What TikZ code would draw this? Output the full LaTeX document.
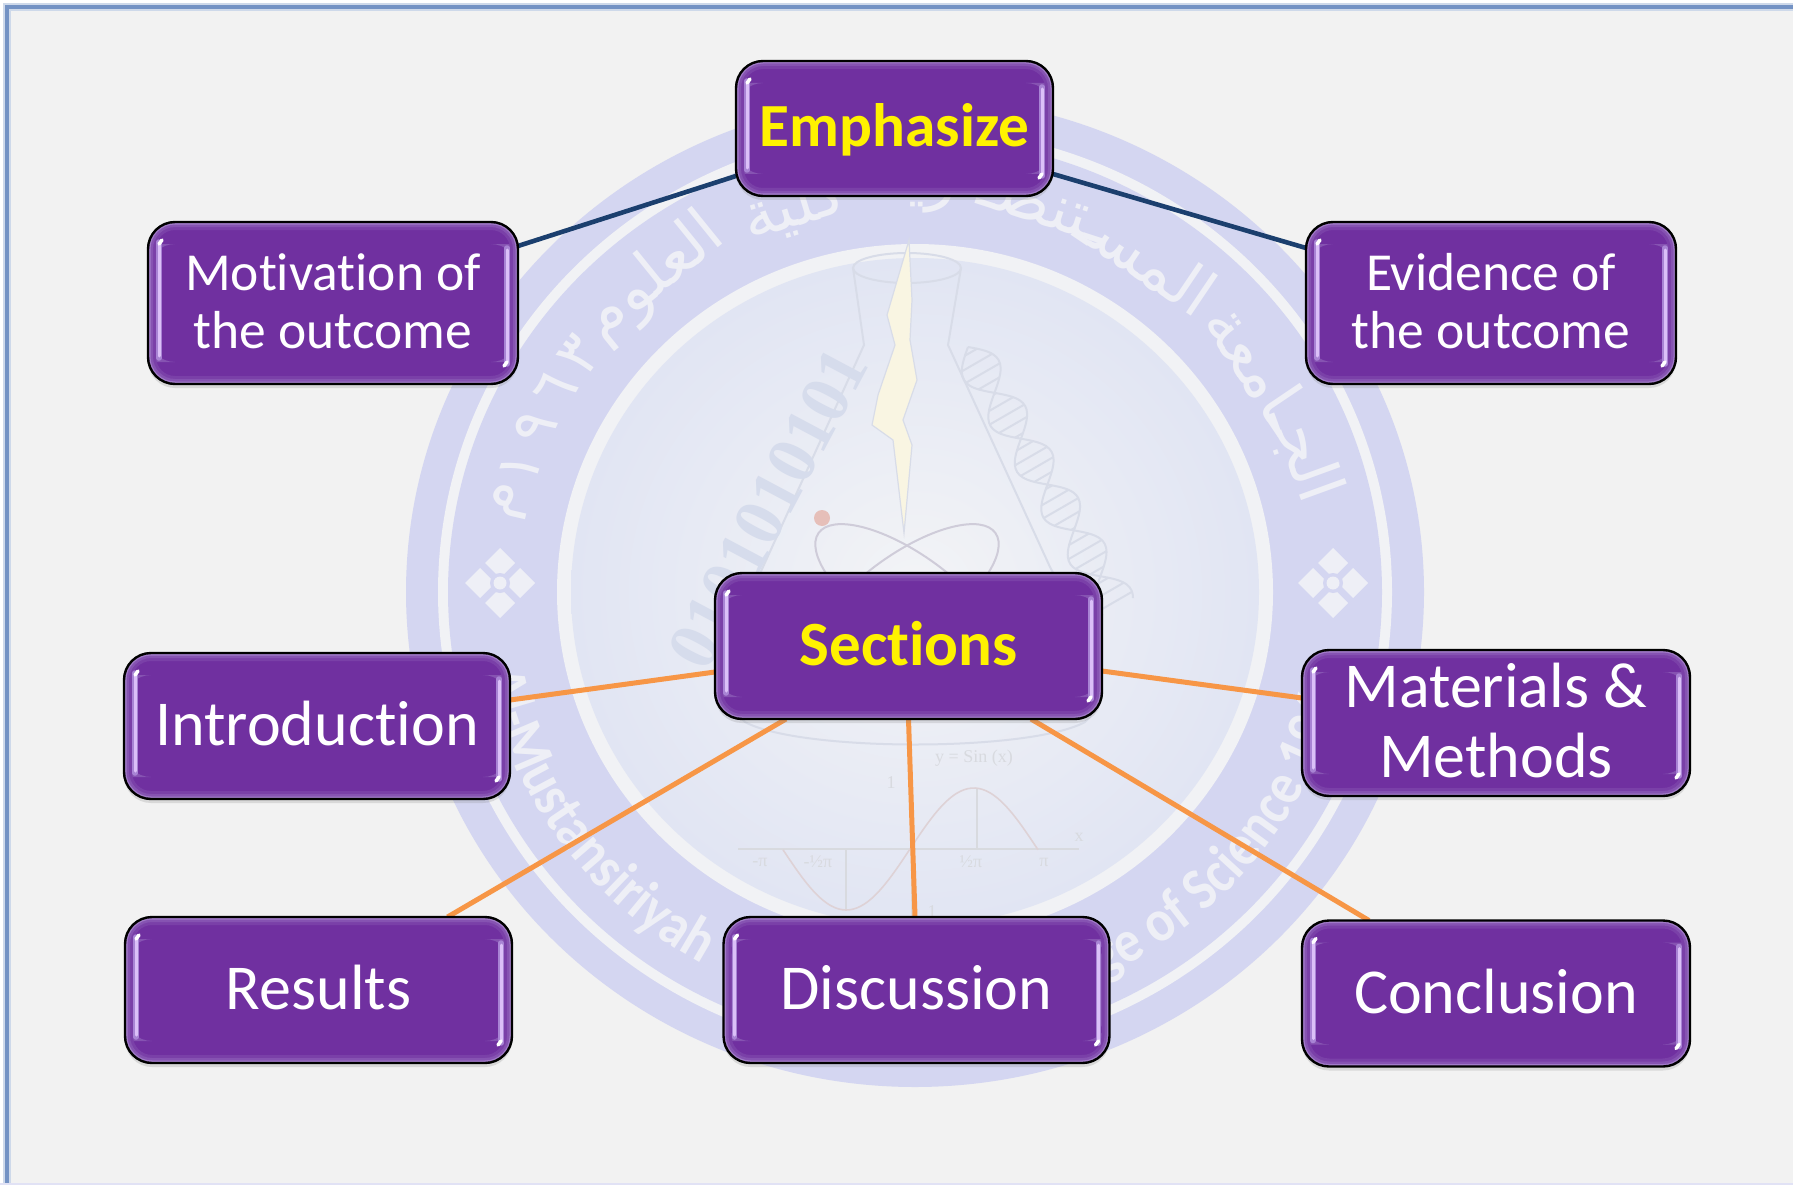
\documentclass[tikz,border=0pt]{standalone}
\usepackage{fontspec}
\usetikzlibrary{calc,backgrounds,shadows,decorations.text}
\setmainfont[Ligatures=NoCommon]{Carlito}
\newfontfamily\wmfont[FakeStretch=0.88,Ligatures=NoCommon]{Carlito}
\newfontfamily\wmserif{Liberation Serif}
\newfontfamily\arabicfont[Script=Arabic]{DejaVu Sans}
\TeXXeTstate=1
\definecolor{pagebg}{HTML}{F2F2F2}
\definecolor{framecol}{HTML}{7392C4}
\definecolor{boxpurple}{HTML}{7030A0}
\definecolor{glowa}{HTML}{7A40A8}
\definecolor{glowb}{HTML}{8653B2}
\definecolor{glowc}{HTML}{A17BC8}
\definecolor{glintsoft}{HTML}{A884D4}
\definecolor{glint}{HTML}{DBC0F8}
\definecolor{navyline}{HTML}{1B3F6E}
\definecolor{orangeline}{HTML}{F79646}
\definecolor{band}{HTML}{D4D6F1}
\definecolor{ringcol}{HTML}{F1F2F5}
\definecolor{wmtext}{HTML}{EEEFF6}
\definecolor{flaskcol}{HTML}{D8DCE8}
\definecolor{digitcol}{HTML}{D6DCEC}
\definecolor{sinecol}{HTML}{DED2D6}
\definecolor{axiscol}{HTML}{D8DADF}
\definecolor{discin}{HTML}{F3F4F6}
\definecolor{discout}{HTML}{E1E5F3}
\definecolor{boltcol}{HTML}{F9F5E2}
\definecolor{orbitcol}{HTML}{CFCCD9}
\definecolor{nucleus}{HTML}{E6BFB9}
\tikzset{
  pbox/.style={rectangle,rounded corners=27pt,draw=black,line width=2.4pt,fill=boxpurple,
    text=white,align=center,inner sep=0pt,outer sep=0pt,
    drop shadow={opacity=.22,shadow xshift=0pt,shadow yshift=-4pt},
    path picture={
      \fill[glowb] ($(path picture bounding box.north west)+(0,22)$) rectangle ($(path picture bounding box.south west)+(11,-22)$);
      \fill[glowb] ($(path picture bounding box.north east)+(0,22)$) rectangle ($(path picture bounding box.south east)+(-11,-22)$);
      \draw[glowa,line width=16pt,rounded corners=27pt] (path picture bounding box.north west) rectangle (path picture bounding box.south east);
      \draw[glowb,line width=10pt,rounded corners=27pt] (path picture bounding box.north west) rectangle (path picture bounding box.south east);
      \draw[glowc,line width=5pt,rounded corners=27pt] (path picture bounding box.north west) rectangle (path picture bounding box.south east);
      \draw[glintsoft,line width=5.5pt,line cap=round]
        ($(path picture bounding box.north west)+(11,20)$) -- ($(path picture bounding box.south west)+(11,-26)$);
      \draw[glintsoft,line width=5.5pt,line cap=round]
        ($(path picture bounding box.north east)+(-11,26)$) -- ($(path picture bounding box.south east)+(-11,-20)$);
      \draw[glint,line width=3pt,line cap=round]
        ($(path picture bounding box.north west)+(11,22)$) -- ($(path picture bounding box.south west)+(11,-28)$);
      \draw[glint,line width=3pt,line cap=round]
        ($(path picture bounding box.north east)+(-11,28)$) -- ($(path picture bounding box.south east)+(-11,-22)$);
      \draw[white,line width=3.5pt,line cap=round]
        ($(path picture bounding box.north west)+(11,22)$) -- ++(3,-4);
      \draw[white,line width=3.5pt,line cap=round]
        ($(path picture bounding box.south east)+(-11,-22)$) -- ++(-3,4);
    }},
  headtext/.style={text=yellow},
  navyconn/.style={navyline,line width=4.6pt},
  orangeconn/.style={orangeline,line width=5pt},
  wmline/.style={flaskcol,line width=2pt},
}
\newcommand{\upt}[1]{\raisebox{2.2pt}[\height][\depth]{#1}}
\newcommand{\arword}[3]{\node[rotate=#1-90,text=wmtext,font=\arabicfont\fontsize{#3}{#3}\selectfont]
  (ar#1) at ({915+415*cos(#1)},{592-403*sin(#1)}) {\beginR #2\endR};}
\newcommand{\ornament}[2]{%
  \foreach \dx/\dy in {0/-20,20/0,0/20,-20/0}{
    \fill[wmtext] (#1+\dx-15,#2+\dy) -- (#1+\dx,#2+\dy-15) -- (#1+\dx+15,#2+\dy) -- (#1+\dx,#2+\dy+15) -- cycle;
  }
  \fill[band] (#1,#2) circle[radius=10pt];
  \fill[wmtext] (#1,#2) circle[radius=6.5pt];}
\begin{document}
\begin{tikzpicture}[x=1pt,y=-1pt]
\useasboundingbox (0,0) rectangle (1793,1185);
\begin{pgfonlayer}{background}
\fill[white] (0,0) rectangle (1793,1185);
\fill[pagebg] (7,7) rectangle (1793,1185);
\draw[framecol!35!white,line width=8pt] (7,1190) -- (7,7) -- (1800,7);
\draw[framecol,line width=4.5pt] (7,1190) -- (7,7) -- (1800,7);
\fill[band!70!white] (0,1183) rectangle (1793,1185);
% ---- watermark
\fill[band] (915,592) ellipse[x radius=509pt,y radius=495pt];
\fill[ringcol] (915,592) ellipse[x radius=477pt,y radius=464pt];
\fill[band] (915,592) ellipse[x radius=467pt,y radius=454pt];
\fill[ringcol] (915,592) ellipse[x radius=358pt,y radius=348pt];
\shade[inner color=discin,outer color=discout] (915,592) ellipse[x radius=344pt,y radius=334pt];
\path[decorate,decoration={text along path,text align={left},
  text={|\wmfont\bfseries\fontsize{60}{60}\selectfont\color{wmtext}|Al-Mustansiriyah}}]
  plot[domain=169:60,samples=70,smooth] ({915+438*cos(\x)},{592+426*sin(\x)});
\path[decorate,decoration={text along path,text align={left},
  text={|\wmfont\bfseries\fontsize{60}{60}\selectfont\color{wmtext}|College of Science 1963}}]
  plot[domain=79:-3,samples=60,smooth] ({915+438*cos(\x)},{592+426*sin(\x)});
\arword{20}{الجـ}{64}
\arword{34}{ـامعة}{64}
\arword{56}{المسـ}{64}
\arword{72}{ـتنصـ}{64}
\arword{90}{رية}{64}
\arword{107}{كلية}{64}
\arword{129}{العلوم}{64}
\arword{144}{٣}{60}
\arword{150}{٦}{60}
\arword{156}{٩}{60}
\arword{162}{١}{60}
\arword{167}{م}{60}
\ornament{500}{583}
\ornament{1333}{583}
% flask
\draw[wmline] (907,268) ellipse[x radius=54pt,y radius=15pt];
\draw[wmline] (853,268) -- (864,345) -- (763,567) .. controls (725,650) and (720,700) .. (745,722)
  .. controls (800,752) and (1030,752) .. (1085,722) .. controls (1110,700) and (1095,650) .. (1050,567) -- (948,345) -- (961,268);
% lightning
\draw[flaskcol,fill=boltcol,line width=1.2pt] (909,240) -- (887,315) -- (895,345) -- (878,395) -- (872,425) -- (893,440)
  -- (904,533) -- (912,445) -- (903,420) -- (917,380) -- (910,340) -- (912,300) -- cycle;
% binary text
\node[rotate=62,text=digitcol,font=\wmserif\bfseries\fontsize{70}{70}\selectfont] (bits) at (768,508) {0101010101};
% dna
\draw[wmline] plot[domain=0:300,samples=80,smooth] ({968+\x*.5-20*sin(\x*3.4)*.866},{347+\x*.866+20*sin(\x*3.4)*.5});
\draw[wmline] plot[domain=0:300,samples=80,smooth] ({968+\x*.5+20*sin(\x*3.4)*.866},{347+\x*.866-20*sin(\x*3.4)*.5});
\foreach \t in {6,18,...,294}{
  \draw[flaskcol,line width=2pt] ({968+\t*.5-20*sin(\t*3.4)*.866},{347+\t*.866+20*sin(\t*3.4)*.5})
    -- ({968+\t*.5+20*sin(\t*3.4)*.866},{347+\t*.866-20*sin(\t*3.4)*.5});
}
% atom
\draw[wmline,draw=orbitcol] (907,595) ellipse[x radius=108pt,y radius=42pt,rotate=-35];
\draw[wmline,draw=orbitcol] (907,595) ellipse[x radius=108pt,y radius=42pt,rotate=35];
\fill[nucleus] (822,518) circle[radius=8pt];
% sine plot
\draw[axiscol,line width=1.5pt] (738,849) -- (1079,849);
\draw[axiscol,line width=1.5pt] (912,770) -- (912,925);
\draw[axiscol,line width=1.2pt] (977,788) -- (977,849);
\draw[axiscol,line width=1.2pt] (846,849) -- (846,910);
\draw[sinecol,line width=1.6pt] plot[domain=783:1038,samples=70,smooth] ({\x},{849-61*sin((\x-910)*1.4118)});
\begin{scope}[every node/.style={text=axiscol,font=\wmserif\fontsize{18}{18}\selectfont}]
\node (sy) at (974,758) {y = Sin (x)};
\node (sa) at (891,783) {1};
\node (sb) at (932,912) {1};
\node (sx) at (1079,837) {x};
\node (sc) at (760,862) {-π};
\node (sd) at (818,862) {-½π};
\node (se) at (971,862) {½π};
\node (sf) at (1044,862) {π};
\end{scope}
\end{pgfonlayer}
% ---- boxes
\node[pbox,minimum width=317pt,minimum height=135pt,font=\bfseries\fontsize{61.3}{61.3}\selectfont,headtext] (emph) at (894.5,128.5) {\raisebox{-1pt}[\height][\depth]{Emphasize}};
\node[pbox,minimum width=370pt,minimum height=162pt,font=\fontsize{53.5}{58}\selectfont] (moti) at (333,303) {\upt{Motivation of}\\\upt{the outcome}};
\node[pbox,minimum width=370pt,minimum height=162pt,font=\fontsize{53.5}{58}\selectfont] (evid) at (1491,303) {\upt{Evidence of}\\\upt{the outcome}};
\node[pbox,minimum width=387pt,minimum height=146pt,font=\bfseries\fontsize{63}{63}\selectfont,headtext] (sect) at (908.5,646) {\upt{Sections}};
\node[pbox,minimum width=386pt,minimum height=146pt,font=\fontsize{64}{64}\selectfont] (intr) at (317,726) {\upt{Introduction}};
\node[pbox,minimum width=388pt,minimum height=146pt,font=\fontsize{64}{70}\selectfont] (matr) at (1496,723) {\upt{Materials \&}\\\upt{Methods}};
\node[pbox,minimum width=387pt,minimum height=146pt,font=\fontsize{64}{64}\selectfont] (resu) at (318.5,990) {\upt{Results}};
\node[pbox,minimum width=386pt,minimum height=146pt,font=\fontsize{64}{64}\selectfont] (disc) at (916.5,990) {\upt{Discussion}};
\node[pbox,minimum width=388pt,minimum height=146pt,font=\fontsize{64}{64}\selectfont] (conc) at (1496,993.5) {\upt{Conclusion}};
% ---- connectors (behind the boxes, above the watermark)
\begin{pgfonlayer}{background}
\draw[navyconn] ($(emph.south west)+(0,-20)$) -- ($(moti.north east)+(0,24)$);
\draw[navyconn] ($(emph.south east)+(0,-22)$) -- ($(evid.north west)+(0,26)$);
\draw[orangeconn] ($(sect.west)+(0,26)$) -- ($(intr.east)+(0,-26)$);
\draw[orangeconn] ($(sect.east)+(0,25)$) -- ($(matr.west)+(0,-25)$);
\draw[orangeconn] ($(sect.south west)+(71,0)$) -- ($(resu.north)+(129,0)$);
\draw[orangeconn] (sect.south) -- ($(disc.north)+(-1.5,0)$);
\draw[orangeconn] ($(sect.south east)+(-71,0)$) -- ($(conc.north)+(-127,0)$);
\end{pgfonlayer}
\end{tikzpicture}
\end{document}
